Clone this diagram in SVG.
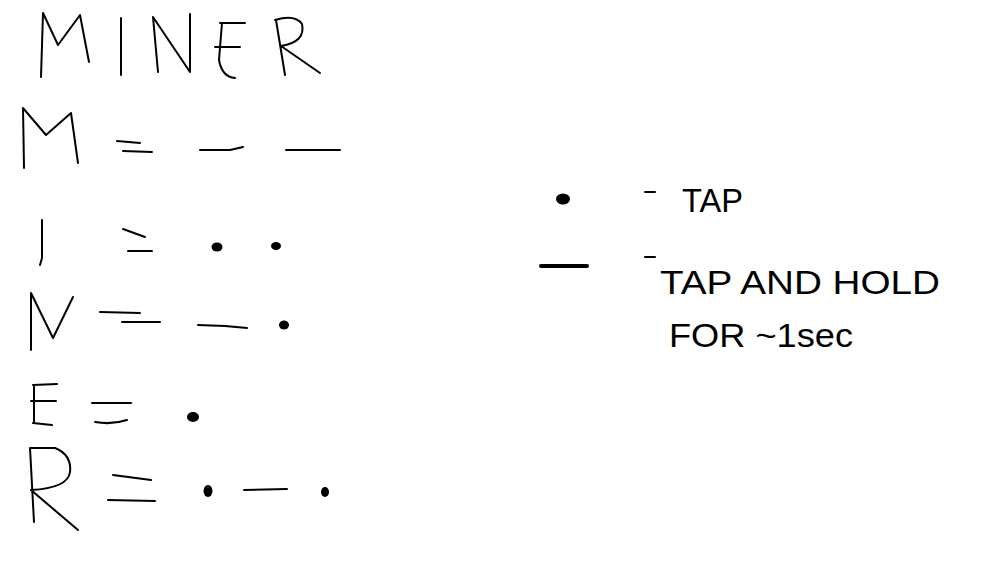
<svg xmlns="http://www.w3.org/2000/svg" width="981" height="562" viewBox="0 0 981 562">
<style>
.s{fill:none;stroke:#000;stroke-width:2;stroke-linecap:round;stroke-linejoin:round}
.d{fill:#000}
.t{font-family:"Liberation Sans","Open Sans",sans-serif;font-size:33px;fill:#000}
</style>
<rect width="981" height="562" fill="#fff"/>
<g id="title">
<path class="s" d="M41,77 L43,13 L58,45 L80,15 L89,62"/>
<path class="s" d="M121,18 L121,75"/>
<path class="s" d="M158,72 L153,17 L190,72 L190,14"/>
<path class="s" d="M222,23 L219,60 Q222,77 235,78 M220,23 L245,23 M215,47 L240,47"/>
<path class="s" d="M276,20 L285,75 M275,20 Q295,14 302,24 Q306,42 281,46 L320,73"/>
</g>
<g id="row-M">
<path class="s" d="M24,168 L23,108 L46,135 L71,113 L78,163"/>
<path class="s" d="M117,141 L140,143 M123,151 L152,152"/>
<path class="s" d="M200,150 L230,150 L243,147 M286,150 L340,150"/>
</g>
<g id="row-I">
<path class="s" d="M42,220 L42,258 L40,265"/>
<path class="s" d="M123,229 L145,237 M128,251 L152,251"/>
<ellipse class="d" cx="217" cy="247" rx="5.5" ry="4.5"/>
<ellipse class="d" cx="276" cy="246" rx="5" ry="4"/>
</g>
<g id="row-N">
<path class="s" d="M31,350 L31,293 L53,338 L73,297"/>
<path class="s" d="M100,312 L140,313 M122,322 L160,322"/>
<path class="s" d="M198,325 L225,326 L247,328"/>
<ellipse class="d" cx="284" cy="325" rx="5" ry="4.5"/>
</g>
<g id="row-E">
<path class="s" d="M34,385 L34,422 M33,385 L57,384 M31,401 L56,401 M33,423 L52,425"/>
<path class="s" d="M92,403 L131,403 M95,422 Q112,425 127,420"/>
<ellipse class="d" cx="193" cy="417" rx="6" ry="5"/>
</g>
<g id="row-R">
<path class="s" d="M30,448 L34,522 M30,448 L55,448 Q72,455 70,472 Q68,488 31,490 L78,530"/>
<path class="s" d="M113,475 L151,480 M108,500 L155,501"/>
<ellipse class="d" cx="208" cy="491" rx="4.5" ry="6"/>
<path class="s" d="M244,490 L287,489"/>
<ellipse class="d" cx="325" cy="492" rx="4" ry="5"/>
</g>
<g id="legend-tap">
<ellipse class="d" cx="563" cy="199" rx="7" ry="5.5"/>
<path class="s" d="M645,192 L655,192"/>
<text class="t" x="682" y="212" textLength="61" lengthAdjust="spacingAndGlyphs">TAP</text>
</g>
<g id="legend-hold">
<path class="s" d="M541,266 L587,266" style="stroke-width:4"/>
<path class="s" d="M645,257 L655,257"/>
<text class="t" x="660" y="294" textLength="280" lengthAdjust="spacingAndGlyphs">TAP AND HOLD</text>
<text class="t" x="669" y="347" textLength="184" lengthAdjust="spacingAndGlyphs">FOR ~1sec</text>
</g>
</svg>
